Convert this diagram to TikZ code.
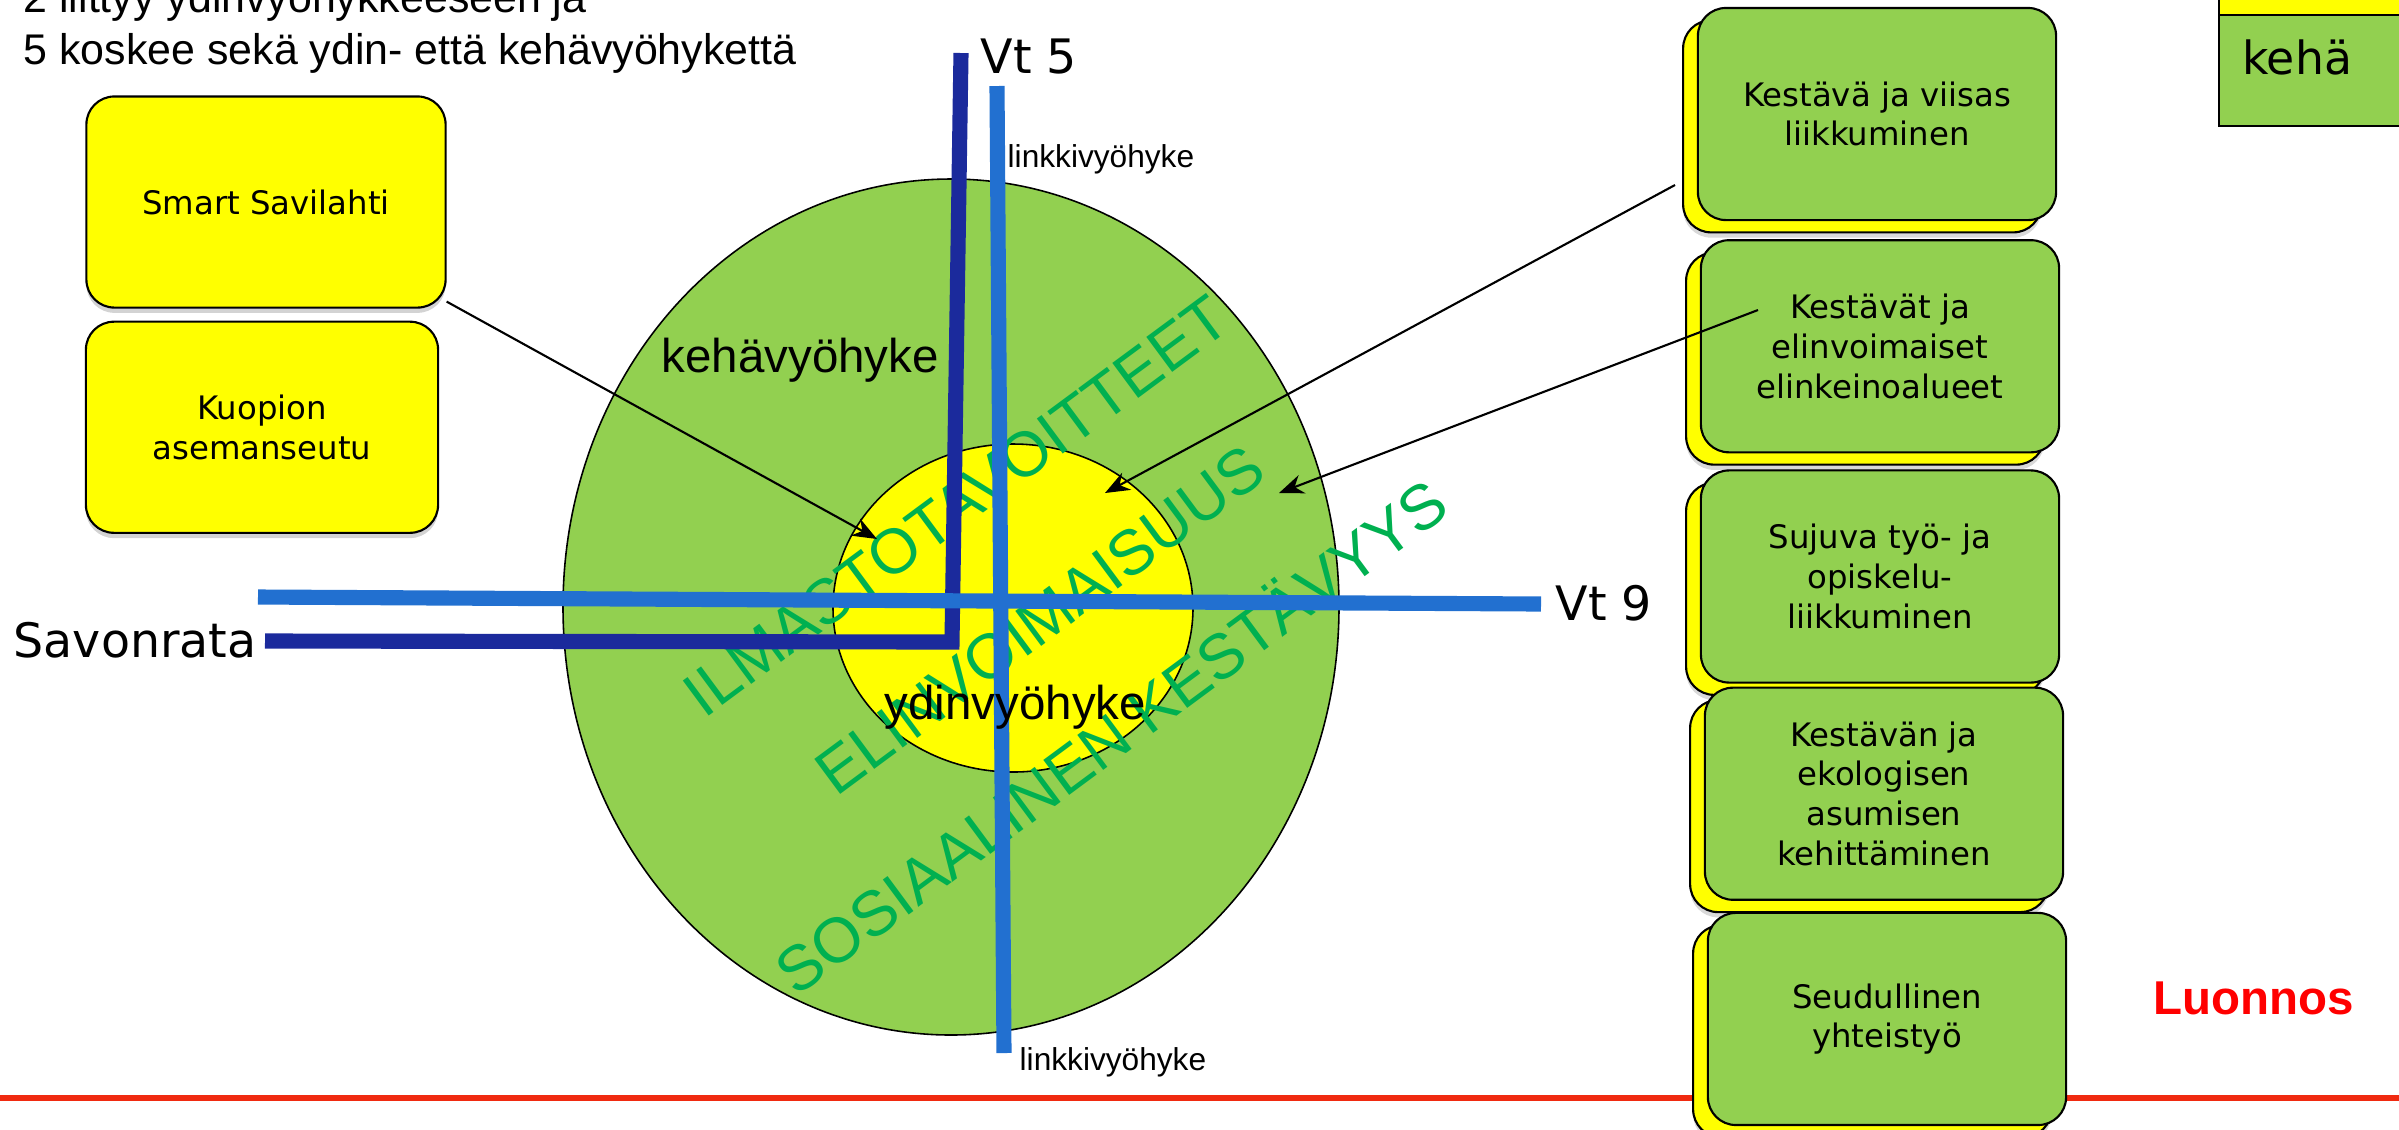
\documentclass[tikz,border=0pt]{standalone}
\usepackage{fontspec}
\setmainfont{DejaVu Sans}
\newfontfamily\arialfont{Liberation Sans}
\usetikzlibrary{arrows.meta,shadows,positioning}

\definecolor{kgreen}{HTML}{92D050}
\definecolor{kyellow}{HTML}{FFFF00}
\definecolor{roadblue}{HTML}{2270D0}
\definecolor{railblue}{HTML}{1B2A9C}
\definecolor{goalgreen}{HTML}{00B050}
\definecolor{linered}{HTML}{F02A10}
\newcommand{\fsz}[2]{\fontsize{#1}{#2}\selectfont}

\begin{document}
\begin{tikzpicture}[x=0.01cm,y=-0.01cm,>={Stealth[length=7pt,width=5.5pt]},
    aim box/.style={draw,line width=0.6pt,rounded corners=0.28cm,fill=kyellow,
      minimum height=2.11cm,align=center,font=\fsz{9.2}{11.3},
      drop shadow={shadow xshift=0pt,shadow yshift=-1.5pt,opacity=.35}},
    theme box/.style={draw,line width=0.6pt,rounded corners=0.28cm,fill=kgreen,
      minimum width=3.58cm,minimum height=2.12cm,align=center,font=\fsz{9.2}{11.3},
      drop shadow={shadow xshift=-4.2pt,shadow yshift=-5pt,opacity=.3},
      copy shadow={fill=kyellow,draw=black,shadow xshift=-4.2pt,shadow yshift=-3.5pt}},
    tag/.style={inner sep=0pt,anchor=base west},
    goal/.style={text=goalgreen,rotate=36.5,font=\arialfont\fsz{18}{20}},
    road/.style={line width=4.3pt}]

  \useasboundingbox (0,0) rectangle (2399,1129);

  \draw[fill=kgreen,line width=0.45pt] (951,607) ellipse [x radius=388,y radius=428];
  \draw[fill=kyellow,line width=0.45pt] (1013,608) ellipse [x radius=180,y radius=164];

  \node[goal] (climate) at (956,506) {ILMASTOTAVOITTEET};
  \node[goal] (vitality) at (1040,620) {ELINVOIMAISUUS};
  \node[goal] (social) at (1109,734) {SOSIAALINEN KESTÄVYYS};

  \coordinate (railtop) at (961,53);
  \coordinate (railbend) at (952,642);
  \coordinate (railwest) at (265,641);
  \coordinate (roadnorth) at (997,86);
  \coordinate (roadsouth) at (1004,1053);
  \coordinate (roadwest) at (258,597);
  \coordinate (roadeast) at (1541,604);
  \draw[road,railblue] (railtop) -- (railbend) -- (railwest);
  \draw[road,roadblue] (roadwest) -- (roadeast);
  \draw[road,roadblue] (roadnorth) -- (roadsouth);

  \node[tag,font=\fsz{13.5}{16}] (vt5) at (980,73) {Vt 5};
  \node[tag,font=\fsz{13.5}{16}] (vt9) at (1555,620) {Vt 9};
  \node[tag,font=\fsz{13.5}{16}] (savonrata) at (13,657) {Savonrata};
  \node[tag,font=\arialfont\fsz{9}{11}] (linknorth) at (1007,167) {linkkivyöhyke};
  \node[tag,font=\arialfont\fsz{9}{11}] (linksouth) at (1019,1070) {linkkivyöhyke};
  \node[tag,font=\arialfont\fsz{13.5}{16}] (ring) at (661,372) {kehävyöhyke};
  \node[tag,font=\arialfont\fsz{13.5}{16}] (core) at (884,719) {ydinvyöhyke};

  \draw[linered,line width=1.7pt] (0,1098) -- (2399,1098);

  \node[aim box,minimum width=3.59cm] (savilahti) at (266,202) {Smart Savilahti};
  \node[aim box,minimum width=3.52cm] (asema) [below=0.12cm of savilahti,xshift=-0.04cm] {Kuopion\\asemanseutu};

  \node[theme box] (liikkuminen) at (1877,114) {Kestävä ja viisas\\liikkuminen};
  \node[theme box] (elinkeino) [below=0.18cm of liikkuminen,xshift=0.03cm] {Kestävät ja\\elinvoimaiset\\elinkeinoalueet};
  \node[theme box] (opiskelu) [below=0.16cm of elinkeino] {Sujuva työ- ja\\opiskelu-\\liikkuminen};
  \node[theme box] (asuminen) [below=0.03cm of opiskelu,xshift=0.04cm] {Kestävän ja\\ekologisen\\asumisen\\kehittäminen};
  \node[theme box] (yhteistyo) [below=0.11cm of asuminen,xshift=0.03cm] {Seudullinen\\yhteistyö};

  \coordinate (coretip) at (877,539);
  \coordinate (coretipb) at (1105,493);
  \coordinate (ringtip) at (1279,493);
  \coordinate (liiktail) at (1675,185);
  \coordinate (elintail) at (1758,310);
  \draw[->,line width=0.6pt] (savilahti) -- (coretip);
  \draw[->,line width=0.6pt] (liiktail) -- (coretipb);
  \draw[->,line width=0.6pt] (elintail) -- (ringtip);

  \draw[fill=kyellow,line width=0.6pt] (2219,-10) rectangle (2410,15);
  \draw[fill=kgreen,line width=0.6pt] (2219,15) rectangle (2410,126);
  \node[font=\fsz{13}{15}] (kehalabel) at (2297,57) {kehä};

  \node[text=red,font=\arialfont\bfseries\fsz{13.5}{16}] (luonnos) at (2254,998) {Luonnos};

  \node[tag,font=\arialfont\fsz{12.2}{14.8}] (note1) at (23,12) {2 liittyy ydinvyöhykkeeseen ja};
  \node[tag,font=\arialfont\fsz{12.2}{14.8}] (note2) at (23,64) {5 koskee sekä ydin- että kehävyöhykettä};

\end{tikzpicture}
\end{document}
